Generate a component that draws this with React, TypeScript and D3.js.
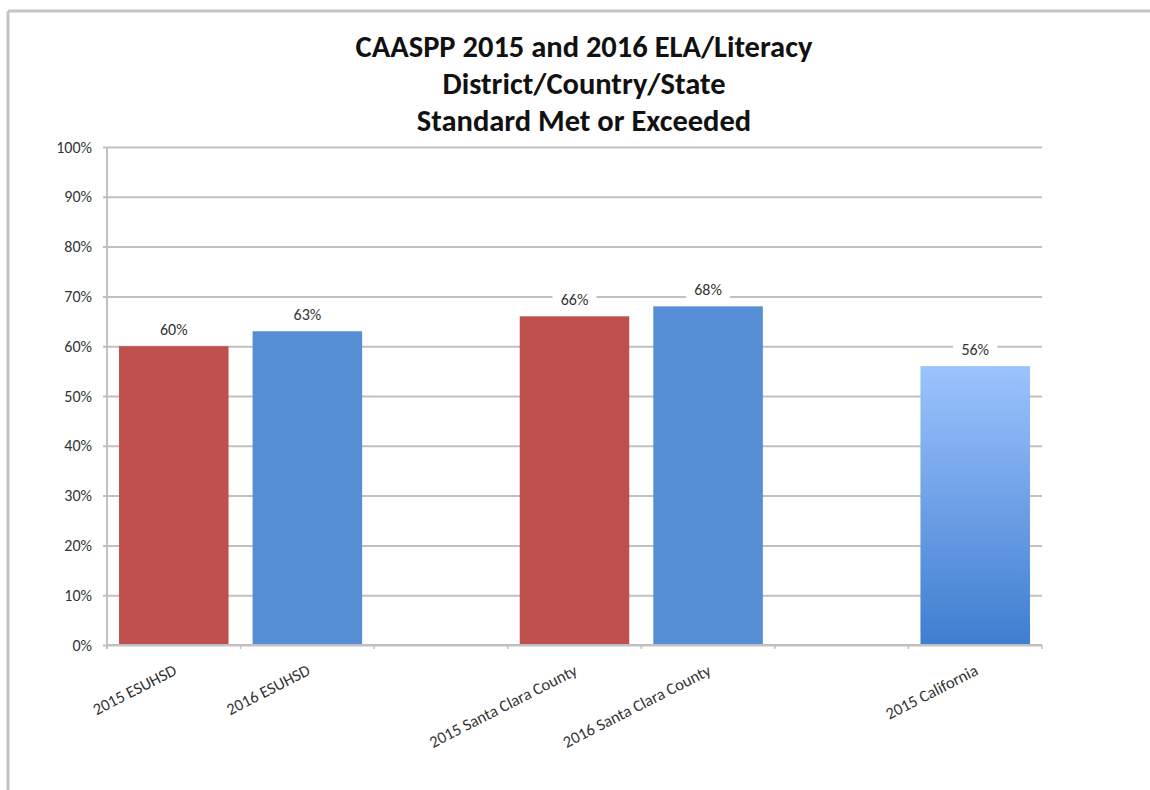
import React, { useEffect, useRef } from 'react';
import * as d3 from 'd3';

const categories = [
  '2015 ESUHSD',
  '2016 ESUHSD',
  '',
  '2015 Santa Clara County',
  '2016 Santa Clara County',
  ' ',
  '2015 California',
];
const values: (number | null)[] = [60, 63, null, 66, 68, null, 56];
const barKinds = ['red', 'blue', '', 'red', 'blue', '', 'gradient'];
const titleLines = [
  'CAASPP 2015 and 2016 ELA/Literacy',
  'District/Country/State',
  'Standard Met or Exceeded',
];
const yTicks = [0, 10, 20, 30, 40, 50, 60, 70, 80, 90, 100];

const App: React.FC = () => {
  const svgRef = useRef<SVGSVGElement>(null);

  useEffect(() => {
    const W = 1150, H = 790;
    const margin = { top: 147, right: 108, bottom: 145, left: 107 };
    const width = W - margin.left - margin.right;
    const height = H - margin.top - margin.bottom;
    const font = 'Calibri, Carlito, "Open Sans", sans-serif';

    const root = d3.select(svgRef.current);
    root.selectAll('*').remove();
    root.attr('width', W).attr('height', H);

    const defs = root.append('defs');
    const grad = defs.append('linearGradient')
      .attr('id', 'caGrad').attr('x1', 0).attr('y1', 0).attr('x2', 0).attr('y2', 1);
    grad.append('stop').attr('offset', '0%').attr('stop-color', '#9cc3fd');
    grad.append('stop').attr('offset', '100%').attr('stop-color', '#3e7ecf');

    // frame
    root.append('line').attr('x1', 8).attr('x2', W).attr('y1', 11).attr('y2', 11)
      .attr('stroke', '#c4c4c4').attr('stroke-width', 3);
    root.append('line').attr('x1', 8).attr('x2', 8).attr('y1', 11).attr('y2', H)
      .attr('stroke', '#c4c4c4').attr('stroke-width', 3);

    // title
    root.append('g').selectAll('text')
      .data(titleLines)
      .enter().append('text')
      .attr('x', 584)
      .attr('y', (_, i) => 57 + i * 37)
      .attr('text-anchor', 'middle')
      .attr('font-family', font)
      .attr('font-weight', 'bold')
      .attr('font-size', 30.5)
      .attr('fill', '#111')
      .text(d => d);

    const svg = root.append('g')
      .attr('transform', `translate(${margin.left},${margin.top})`);

    const x = d3.scaleBand()
      .domain(categories)
      .range([0, width])
      .paddingInner(0.18)
      .paddingOuter(0.09);

    const y = d3.scaleLinear().domain([0, 100]).range([height, 0]);

    // y axis with gridlines
    const yAxis = svg.append('g')
      .call(d3.axisLeft(y).tickValues(yTicks).tickSize(-width).tickSizeOuter(0)
        .tickFormat(d => `${d}%`).tickPadding(15));
    yAxis.select('.domain').remove();
    yAxis.selectAll('.tick line')
      .attr('x1', -4)
      .attr('stroke', '#c0c0c0').attr('stroke-width', 2);
    yAxis.selectAll('.tick text')
      .attr('font-family', font).attr('font-size', 16).attr('fill', '#333');
    svg.append('line').attr('x1', 0).attr('x2', 0).attr('y1', 0).attr('y2', height + 4)
      .attr('stroke', '#c0c0c0').attr('stroke-width', 2);

    // x axis
    const step = x.step();
    const boundaries = d3.range(categories.length + 1).map(i => i * step);
    svg.append('g').selectAll('line')
      .data(boundaries)
      .enter().append('line')
      .attr('x1', d => d).attr('x2', d => d)
      .attr('y1', height).attr('y2', height + 4)
      .attr('stroke', '#c0c0c0').attr('stroke-width', 1.5);

    svg.append('g').selectAll('text')
      .data(categories.filter(c => c.trim() !== ''))
      .enter().append('text')
      .attr('transform', d => `translate(${x(d)! + x.bandwidth() / 2 + 4},${height + 29}) rotate(-27)`)
      .attr('text-anchor', 'end')
      .attr('font-family', font)
      .attr('font-size', 16.5)
      .attr('fill', '#333')
      .text(d => d);

    const data = categories.map((c, i) => ({ c, v: values[i], kind: barKinds[i] }))
      .filter(d => d.v !== null) as { c: string; v: number; kind: string }[];

    const fillOf = (k: string) => k === 'red' ? '#c0504d' : k === 'blue' ? '#558ed5' : 'url(#caGrad)';

    svg.append('g').selectAll('rect')
      .data(data)
      .enter().append('rect')
      .attr('x', d => x(d.c)!)
      .attr('width', x.bandwidth())
      .attr('y', d => y(d.v))
      .attr('height', d => height - y(d.v))
      .attr('fill', d => fillOf(d.kind));

    // axis line on top of bars
    svg.append('line').attr('x1', 0).attr('x2', width).attr('y1', height).attr('y2', height)
      .attr('stroke', '#c0c0c0').attr('stroke-width', 2);

    // value labels with white background
    const labels = svg.append('g').selectAll('g')
      .data(data)
      .enter().append('g')
      .attr('transform', d => `translate(${x(d.c)! + x.bandwidth() / 2},${y(d.v) - 11})`);
    labels.append('rect')
      .attr('x', -22).attr('y', -15).attr('width', 44).attr('height', 20)
      .attr('fill', '#fff');
    labels.append('text')
      .attr('text-anchor', 'middle')
      .attr('font-family', font)
      .attr('font-size', 16)
      .attr('fill', '#333')
      .text(d => `${d.v}%`);
  }, []);

  return (
    <svg ref={svgRef} style={{ position: 'absolute', left: 0, top: 0, background: '#fff' }}></svg>
  );
};

export default App;
